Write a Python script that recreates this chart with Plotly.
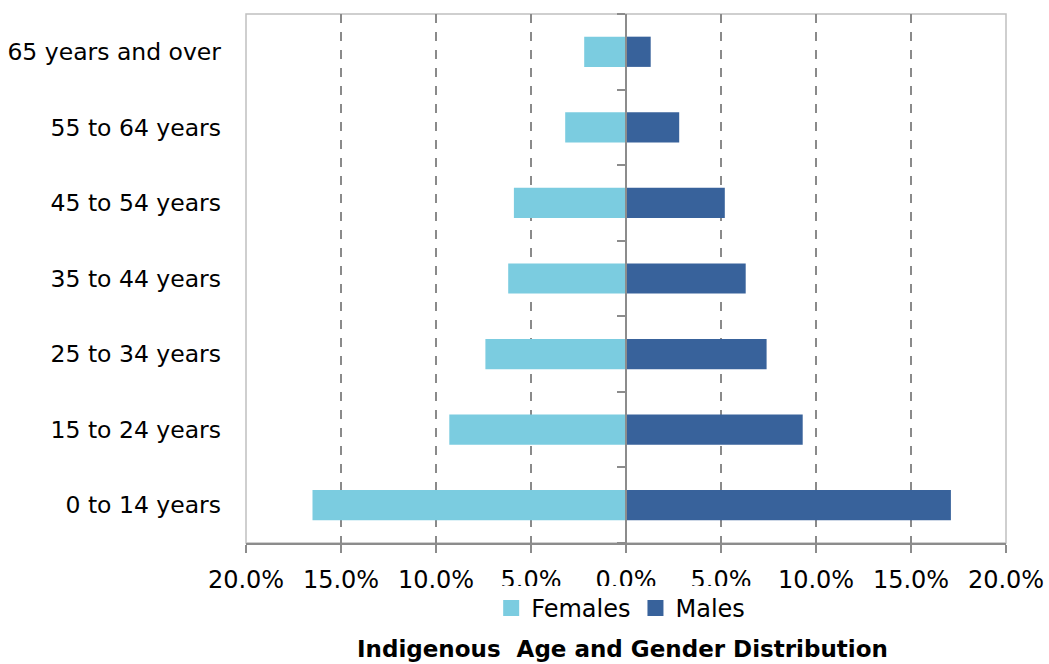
import plotly.graph_objects as go

# Population share by age group (percent of total population)
age_groups = ["0 to 14 years", "15 to 24 years", "25 to 34 years", "35 to 44 years",
              "45 to 54 years", "55 to 64 years", "65 years and over"]
females = [16.5, 9.3, 7.4, 6.2, 5.9, 3.2, 2.2]
males = [17.1, 9.3, 7.4, 6.3, 5.2, 2.8, 1.3]

tick_vals = [-20, -15, -10, -5, 0, 5, 10, 15, 20]
tick_text = ["20.0%", "15.0%", "10.0%", "5.0%", "0.0%", "5.0%", "10.0%", "15.0%", "20.0%"]

FONT = "DejaVu Sans, sans-serif"
FEMALE_COLOR = "#7BCCE0"
MALE_COLOR = "#38629B"

fig = go.Figure()
fig.add_trace(go.Bar(
    y=age_groups, x=[-v for v in females], orientation="h", name="Females",
    marker=dict(color=FEMALE_COLOR, line=dict(width=0)), width=0.4,
    yaxis="y", showlegend=False,
))
fig.add_trace(go.Bar(
    y=age_groups, x=males, orientation="h", name="Males",
    marker=dict(color=MALE_COLOR, line=dict(width=0)), width=0.4,
    yaxis="y2", showlegend=False,
))
# Legend entries with larger square swatches
for name, color in [("Females", FEMALE_COLOR), ("Males", MALE_COLOR)]:
    fig.add_trace(go.Scatter(
        x=[None], y=[None], mode="markers", name=name,
        marker=dict(symbol="square", size=18, color=color), hoverinfo="skip",
    ))

fig.update_layout(
    width=1049, height=664,
    margin=dict(l=246, r=43, t=14, b=121),
    paper_bgcolor="white", plot_bgcolor="white",
    barmode="overlay",
    font=dict(family=FONT, size=24, color="black"),
    showlegend=True,
    legend=dict(
        orientation="h", x=0.493, xanchor="center", y=-0.081, yanchor="top",
        bgcolor="white", font=dict(size=24), itemwidth=30,
        traceorder="normal", itemclick=False, tracegroupgap=0,
    ),
    xaxis=dict(
        range=[-20, 20], tickvals=tick_vals, ticktext=tick_text,
        showgrid=True, gridcolor="#8A8A8A", griddash="dash", gridwidth=1.5,
        zeroline=False, showline=True, linecolor="#8C8C8C", linewidth=2,
        ticks="outside", ticklen=8, tickwidth=2, tickcolor="#8C8C8C",
        tickfont=dict(size=24), ticklabelstandoff=6, fixedrange=True,
        automargin=False,
    ),
    yaxis=dict(
        showgrid=False, zeroline=False, showline=False, ticks="",
        tickfont=dict(size=23.5), ticklabelstandoff=24, fixedrange=True,
        automargin=False,
    ),
    yaxis2=dict(
        overlaying="y", matches="y", anchor="free", position=0.5, side="left",
        showgrid=False, zeroline=False, showline=True, linecolor="#8C8C8C", linewidth=2,
        ticks="outside", tickson="boundaries", ticklen=8, tickwidth=2, tickcolor="#8C8C8C",
        showticklabels=False, fixedrange=True, automargin=False,
    ),
    shapes=[dict(
        type="rect", xref="paper", yref="paper", x0=0, x1=1, y0=0, y1=1,
        line=dict(color="#C0C0C0", width=1.5), layer="below",
    )],
    annotations=[dict(
        text="<b>Indigenous  Age and Gender Distribution</b>",
        xref="paper", yref="paper", x=0.495, y=-0.2, yanchor="middle",
        showarrow=False, font=dict(size=23, family="DejaVu Sans, sans-serif"),
    )],
)

fig.write_html("out.html")
